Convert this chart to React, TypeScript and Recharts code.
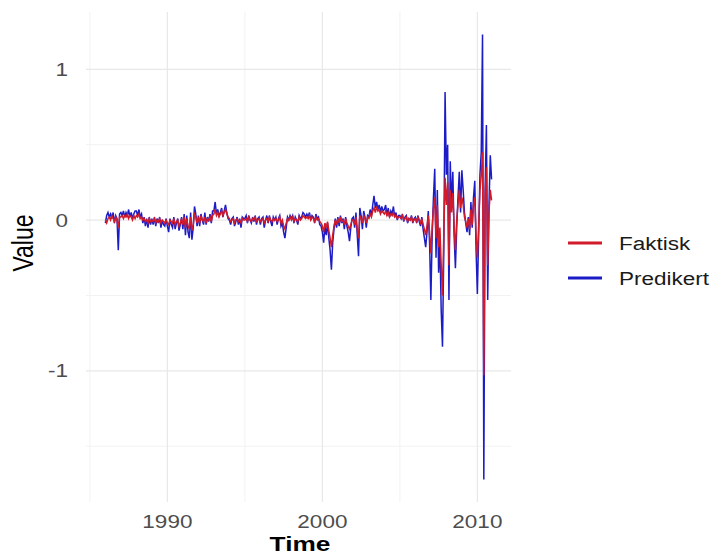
import { LineChart, Line, XAxis, YAxis, CartesianGrid } from 'recharts';

// monthly values, January 1986 to December 2010 (one row per year)
const startYear = 1986;

const faktisk: number[] = [
  0.0, -0.02, 0.01, 0.02, 0.0, 0.03, 0.01, -0.01, 0.02, 0.0, -0.05, 0.02, // 1986
  0.02, 0.03, 0.01, 0.03, 0.02, 0.04, 0.01, 0.03, 0.02, 0.0, 0.03, 0.01, // 1987
  0.03, 0.02, 0.04, 0.01, 0.02, 0.0, 0.01, -0.01, 0.0, -0.02, 0.01, -0.01, // 1988
  0.0, -0.01, 0.01, -0.02, 0.0, -0.01, 0.01, -0.02, 0.0, -0.01, -0.02, 0.0, // 1989
  -0.02, -0.03, 0.0, -0.01, -0.02, 0.01, -0.03, -0.01, 0.0, -0.04, -0.02, 0.01, // 1990
  -0.03, 0.02, -0.05, 0.01, -0.04, -0.06, 0.02, -0.07, -0.03, 0.04, 0.02, -0.02, // 1991
  0.01, -0.02, 0.03, 0.0, -0.01, 0.02, -0.02, 0.01, 0.0, 0.02, -0.01, 0.03, // 1992
  0.04, 0.07, 0.03, 0.05, 0.02, 0.04, 0.06, 0.03, 0.05, 0.07, 0.04, 0.02, // 1993
  0.01, -0.01, 0.0, 0.01, -0.02, 0.0, 0.01, -0.01, 0.0, -0.02, 0.01, 0.0, // 1994
  0.0, 0.01, -0.01, 0.02, 0.0, -0.01, 0.01, 0.0, 0.02, -0.01, 0.0, 0.01, // 1995
  -0.01, 0.0, 0.01, -0.02, 0.0, 0.01, -0.01, 0.02, 0.0, -0.01, 0.01, 0.0, // 1996
  0.01, -0.01, 0.0, 0.02, -0.02, 0.0, -0.04, -0.06, -0.02, 0.01, 0.0, 0.02, // 1997
  0.0, 0.02, -0.01, 0.01, 0.0, -0.01, 0.02, 0.0, 0.01, 0.03, 0.02, 0.01, // 1998
  0.02, 0.01, 0.03, 0.0, 0.02, 0.01, -0.01, 0.02, 0.0, 0.01, -0.01, -0.02, // 1999
  -0.04, -0.08, -0.02, -0.05, -0.01, -0.07, -0.12, -0.18, -0.1, -0.04, 0.0, -0.03, // 2000
  0.01, -0.02, 0.02, -0.01, 0.0, -0.03, 0.01, -0.02, -0.04, -0.06, -0.03, 0.0, // 2001
  0.0, -0.03, 0.02, -0.06, -0.12, 0.03, 0.01, -0.02, 0.03, 0.01, -0.02, 0.02, // 2002
  0.01, 0.04, 0.02, 0.06, 0.08, 0.05, 0.09, 0.06, 0.07, 0.04, 0.06, 0.05, // 2003
  0.04, 0.06, 0.03, 0.05, 0.02, 0.04, 0.03, 0.05, 0.02, 0.03, 0.01, 0.02, // 2004
  0.02, 0.01, 0.03, 0.0, 0.01, 0.02, -0.01, 0.01, 0.0, 0.02, -0.01, 0.0, // 2005
  0.01, -0.01, 0.02, 0.0, -0.02, 0.01, -0.03, -0.06, -0.1, -0.04, 0.03, -0.08, // 2006
  -0.22, -0.05, 0.08, 0.15, -0.12, 0.1, -0.18, -0.05, -0.3, -0.5, -0.1, 0.28, // 2007
  0.1, 0.25, -0.3, 0.2, 0.05, 0.18, -0.05, -0.2, 0.0, 0.1, 0.2, 0.08, // 2008
  0.15, 0.1, 0.02, -0.01, -0.05, 0.01, -0.06, 0.07, -0.03, 0.1, 0.15, -0.1, // 2009
  -0.25, -0.05, 0.2, 0.3, 0.45, -1.03, 0.15, 0.35, -0.3, 0.05, 0.2, 0.13, // 2010
];

const predikert: number[] = [
  -0.02, 0.03, 0.05, 0.02, 0.04, 0.01, 0.05, -0.02, 0.03, 0.01, -0.2, 0.04, // 1986
  0.05, 0.03, 0.06, 0.02, 0.05, 0.03, 0.07, 0.02, 0.05, 0.01, 0.04, 0.06, // 1987
  0.06, 0.03, 0.07, 0.02, 0.04, -0.02, 0.02, -0.04, 0.01, -0.05, 0.02, -0.03, // 1988
  0.01, -0.03, 0.02, -0.04, 0.01, -0.02, 0.02, -0.05, 0.0, -0.03, -0.04, 0.01, // 1989
  -0.04, -0.08, 0.01, -0.03, -0.05, 0.02, -0.06, -0.02, 0.01, -0.07, -0.03, 0.02, // 1990
  -0.06, 0.04, -0.1, 0.03, -0.08, -0.12, 0.05, -0.13, -0.05, 0.09, 0.04, -0.04, // 1991
  0.03, -0.04, 0.04, 0.0, -0.03, 0.05, -0.03, 0.02, -0.01, 0.04, -0.02, 0.06, // 1992
  0.06, 0.12, 0.04, 0.07, 0.03, 0.05, 0.08, 0.02, 0.06, 0.1, 0.05, 0.01, // 1993
  0.0, -0.03, 0.01, 0.02, -0.04, -0.01, 0.02, -0.03, 0.01, -0.05, 0.02, 0.01, // 1994
  0.01, 0.03, -0.02, 0.03, 0.0, -0.02, 0.02, -0.01, 0.03, -0.03, 0.01, 0.02, // 1995
  -0.03, 0.01, 0.02, -0.05, 0.0, 0.03, -0.02, 0.03, -0.01, -0.04, 0.02, 0.0, // 1996
  0.02, -0.03, 0.01, 0.03, -0.04, -0.02, -0.08, -0.12, -0.05, 0.02, 0.0, 0.03, // 1997
  0.01, 0.03, -0.02, 0.02, 0.0, -0.03, 0.03, 0.01, 0.02, 0.05, 0.04, 0.02, // 1998
  0.04, 0.02, 0.05, 0.0, 0.03, 0.02, -0.02, 0.04, 0.01, 0.02, -0.03, -0.04, // 1999
  -0.08, -0.15, -0.04, -0.1, -0.02, -0.12, -0.2, -0.33, -0.15, -0.06, 0.01, -0.05, // 2000
  0.02, -0.04, 0.03, -0.02, 0.01, -0.06, 0.02, -0.04, -0.08, -0.14, -0.05, 0.01, // 2001
  0.02, -0.05, 0.05, -0.1, -0.24, 0.08, 0.03, -0.06, 0.06, 0.02, -0.05, 0.03, // 2002
  0.02, 0.07, 0.03, 0.1, 0.16, 0.08, 0.12, 0.07, 0.1, 0.05, 0.09, 0.06, // 2003
  0.07, 0.1, 0.03, 0.08, 0.02, 0.06, 0.04, 0.09, 0.02, 0.05, 0.0, 0.03, // 2004
  0.03, 0.01, 0.04, -0.01, 0.02, 0.03, -0.02, 0.01, 0.0, 0.03, -0.02, 0.01, // 2005
  0.02, -0.02, 0.03, -0.01, -0.04, 0.02, -0.06, -0.12, -0.18, -0.08, 0.06, -0.15, // 2006
  -0.53, -0.1, 0.15, 0.34, -0.25, 0.2, -0.35, -0.15, -0.6, -0.84, -0.2, 0.85, // 2007
  0.3, 0.5, -0.53, 0.39, 0.1, 0.32, -0.1, -0.32, -0.05, 0.15, 0.32, 0.05, // 2008
  0.33, 0.2, 0.05, -0.02, -0.08, 0.02, -0.1, 0.12, -0.05, 0.15, 0.26, -0.2, // 2009
  -0.49, -0.1, 0.3, 0.45, 1.23, -1.72, 0.2, 0.63, -0.53, 0.1, 0.43, 0.27, // 2010
];

const xTicks = [1985, 1990, 1995, 2000, 2005, 2010];
const xLabels = [1990, 2000, 2010];
const yTicks = [-1.5, -1, -0.5, 0, 0.5, 1];
const yLabels = [-1, 0, 1];
const seriesNames = ['Faktisk', 'Predikert'];
const seriesColors = ['#d11a2a', '#1c1cc6'];

const data = faktisk.map((f, i) => ({
  time: startYear + i / 12,
  faktisk: f,
  predikert: predikert[i],
}));

const FONT = '"Liberation Sans", Arial, sans-serif';
const STRETCH = 1.25;

function XTick({ x, y, payload }: any) {
  if (!xLabels.includes(payload.value)) return <g />;
  return (
    <text
      transform={`translate(${x},${y + 26}) scale(${STRETCH},1)`}
      textAnchor="middle"
      fill="#4d4d4d"
      fontSize={18}
      fontFamily={FONT}
    >
      {payload.value}
    </text>
  );
}

function YTick({ x, y, payload }: any) {
  if (!yLabels.includes(payload.value)) return <g />;
  return (
    <text
      transform={`translate(${x},${y + 6.5}) scale(${STRETCH},1)`}
      textAnchor="end"
      fill="#4d4d4d"
      fontSize={18}
      fontFamily={FONT}
    >
      {payload.value}
    </text>
  );
}

export default function App() {
  return (
    <div style={{ position: 'absolute', left: 0, top: 0, width: 713, height: 554, background: '#fff' }}>
      <LineChart
        width={713}
        height={554}
        data={data}
        margin={{ top: 12, right: 202, bottom: 22, left: 46 }}
      >
        <CartesianGrid
          stroke="#f2f2f2"
          strokeWidth={1}
          horizontalValues={[-1.5, -0.5, 0.5]}
          verticalValues={[1985, 1995, 2005]}
        />
        <CartesianGrid
          stroke="#e8e8e8"
          strokeWidth={1.2}
          horizontalValues={yLabels}
          verticalValues={xLabels}
        />
        <XAxis
          type="number"
          dataKey="time"
          domain={[1984.75, 2012.17]}
          ticks={xTicks}
          allowDataOverflow
          axisLine={false}
          tickLine={false}
          tickSize={0}
          tickMargin={0}
          height={30}
          tick={XTick}
          interval={0}
        />
        <YAxis
          type="number"
          domain={[-1.87, 1.38]}
          ticks={yTicks}
          allowDataOverflow
          axisLine={false}
          tickLine={false}
          tickSize={0}
          tickMargin={18}
          width={40}
          tick={YTick}
          interval={0}
        />
        <Line
          type="linear"
          dataKey="predikert"
          name={seriesNames[1]}
          stroke={seriesColors[1]}
          strokeWidth={1.5}
          dot={false}
          isAnimationActive={false}
        />
        <Line
          type="linear"
          dataKey="faktisk"
          name={seriesNames[0]}
          stroke={seriesColors[0]}
          strokeWidth={1.5}
          dot={false}
          isAnimationActive={false}
        />
      </LineChart>
      <svg
        width={713}
        height={554}
        style={{ position: 'absolute', left: 0, top: 0, pointerEvents: 'none' }}
      >
        <text
          transform={`translate(300,551) scale(1.25,1)`}
          textAnchor="middle"
          fontSize={21}
          fontWeight="bold"
          fontFamily={FONT}
          fill="#000"
        >
          Time
        </text>
        <text
          transform={`translate(33,243) scale(${STRETCH},1) rotate(-90)`}
          textAnchor="middle"
          fontSize={23}
          fontFamily={FONT}
          fill="#000"
        >
          Value
        </text>
        {seriesNames.map((name, i) => (
          <g key={name}>
            <line
              x1={568}
              x2={602}
              y1={243 + i * 35}
              y2={243 + i * 35}
              stroke={seriesColors[i]}
              strokeWidth={3}
            />
            <text
              transform={`translate(619,${243 + i * 35 + 6.5}) scale(${STRETCH},1)`}
              fontSize={18}
              fontFamily={FONT}
              fill="#1a1a1a"
            >
              {name}
            </text>
          </g>
        ))}
      </svg>
    </div>
  );
}
